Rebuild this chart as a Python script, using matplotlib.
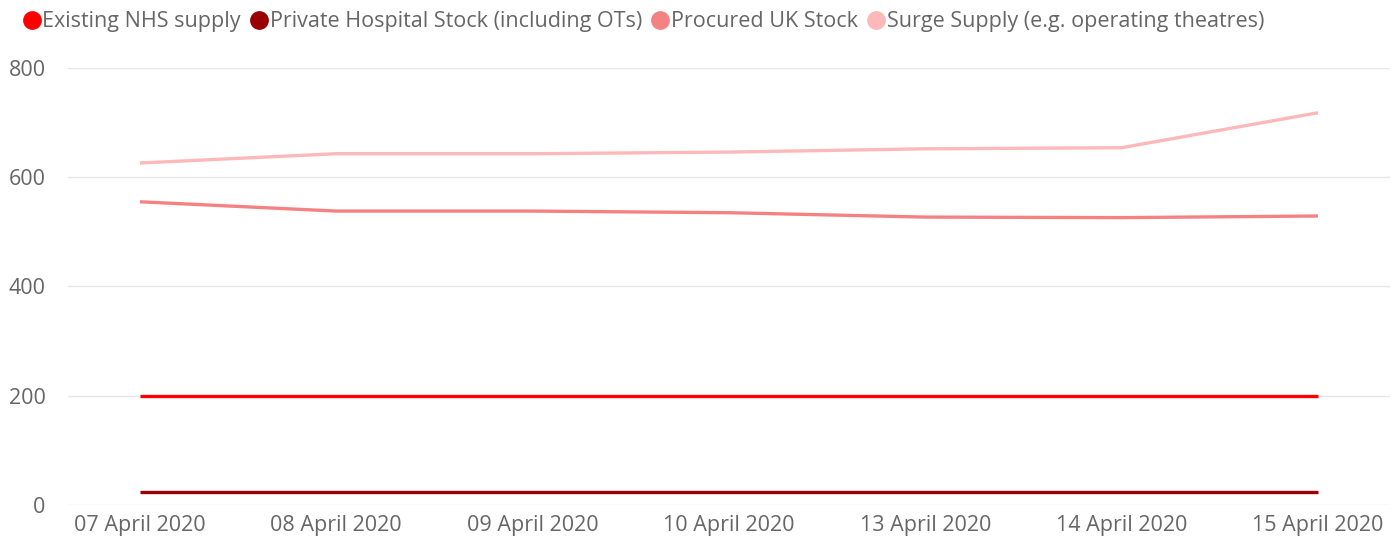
import matplotlib
matplotlib.use('Agg')
import matplotlib.pyplot as plt
from matplotlib.lines import Line2D

dates = ['07 April 2020', '08 April 2020', '09 April 2020', '10 April 2020',
         '13 April 2020', '14 April 2020', '15 April 2020']
existing_nhs = [200, 200, 200, 200, 200, 200, 200]
private_hospital = [24, 24, 24, 24, 24, 24, 24]
procured_uk = [555, 538, 538, 535, 527, 526, 529]
surge_supply = [626, 643, 643, 646, 652, 654, 718]

series = [
    ('Existing NHS supply', existing_nhs, '#FE0000'),
    ('Private Hospital Stock (including OTs)', private_hospital, '#9A0000'),
    ('Procured UK Stock', procured_uk, '#F58282'),
    ('Surge Supply (e.g. operating theatres)', surge_supply, '#FDB9B9'),
]

plt.rcParams['font.family'] = ['Open Sans', 'DejaVu Sans']
text_color = '#666666'

fig = plt.figure(figsize=(13.95, 5.48), dpi=100)
ax = fig.add_axes([0.0487, 0.0785, 0.9477, 0.7975])

x = list(range(len(dates)))
for label, values, color in series:
    ax.plot(x, values, color=color, linewidth=2.4, solid_capstyle='butt')

ax.set_xlim(-0.367, len(dates) - 1 + 0.367)
ax.set_ylim(0, 800)
ax.set_yticks([0, 200, 400, 600, 800])
ax.set_xticks(x)
ax.set_xticklabels(dates)
ax.grid(axis='y', color='#E6E6E6', linewidth=1)
ax.set_axisbelow(True)
for side in ['top', 'right', 'left', 'bottom']:
    ax.spines[side].set_visible(False)
ax.tick_params(axis='both', length=0, labelsize=15.5, colors=text_color)
ax.tick_params(axis='y', pad=16)
ax.tick_params(axis='x', pad=7)

handles = [Line2D([], [], linestyle='none', marker='o', markersize=12.5,
                  markerfacecolor=c, markeredgecolor=c) for _, _, c in series]
fig.legend(handles, [s[0] for s in series], loc='upper left',
           bbox_to_anchor=(0.001, 1.015), ncol=4, frameon=False, fontsize=15.5,
           handletextpad=0.0, columnspacing=0.35, handlelength=1.0,
           labelcolor=text_color)

fig.savefig('out.png', dpi=100)
